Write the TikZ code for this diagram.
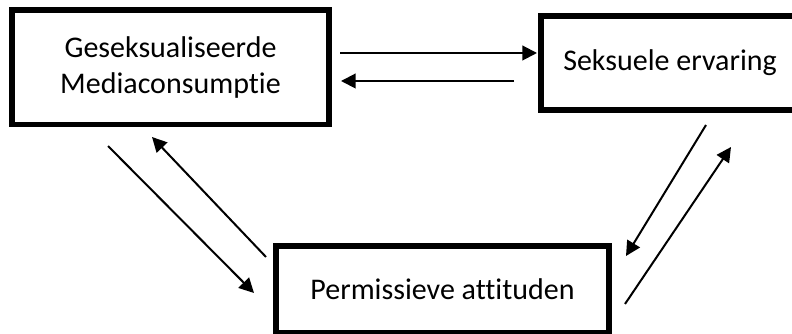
\documentclass[tikz,border=0pt]{standalone}
\usepackage{fontspec}
\setmainfont{Carlito}[Ligatures=NoCommon]
\usetikzlibrary{arrows.meta,shapes}
\tikzstyle{blok}=[draw, line width=4pt, outer sep=0pt, inner sep=0pt, align=center, font=\fontsize{22.5}{27}\selectfont]
\tikzstyle{pijl} = [draw, line width=1.5pt, -{Triangle[length=11pt,width=11pt]}]

\begin{document}
\begin{tikzpicture}[x=0.75pt, y=0.75pt]

    \clip (0,0) rectangle (792,334);

    \node[blok, minimum width=237.75pt, minimum height=85.9pt] (media) at (170.5,266.75) {Geseksualiseerde\\Mediaconsumptie};
    \node[blok, minimum width=193.5pt, minimum height=70.5pt] (ervaring) at (670,271) {Seksuele ervaring};
    \node[blok, minimum width=249.75pt, minimum height=65.25pt] (attituden) at (442.5,44.5) {Permissieve attituden};

    \foreach \source/\sx/\sy/\dest/\dx/\dy in {media.east/11/14.25/ervaring.west/-4/10,
        ervaring.west/-27/-18/media.east/12/-13.75,
        media.south/-62.5/-21.5/attituden.west/-22/-3.5,
        attituden.west/-10/32.5/media.south/-18.5/-12.5,
        ervaring.south/36/-15/attituden.east/17/33.5,
        attituden.east/16/-14.5/ervaring.south/61/-37}
        \path[pijl] ([shift={(\sx,\sy)}]\source) -- ([shift={(\dx,\dy)}]\dest);

\end{tikzpicture}
\end{document}
